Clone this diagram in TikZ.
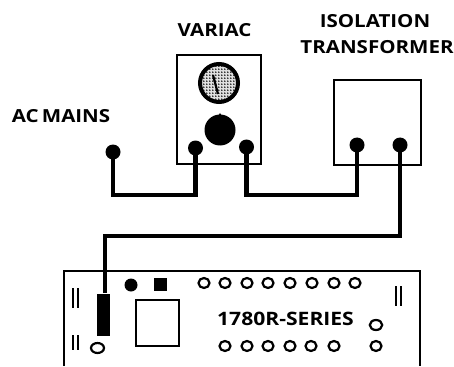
\documentclass[tikz,border=0pt]{standalone}
\usepackage{fontspec}
\setmainfont{Open Sans}[FakeStretch=1.14]
\usetikzlibrary{patterns,shapes.geometric}
\pgfdeclarepatternformonly{dialdots}{\pgfqpoint{-1pt}{-1pt}}{\pgfqpoint{2pt}{2pt}}{\pgfqpoint{3pt}{3pt}}{%
  \pgfpathcircle{\pgfqpoint{0pt}{0pt}}{1pt}\pgfusepath{fill}}
\tikzset{
  x=1pt,y=-1pt,
  box/.style={draw,line width=2pt,fill=white},
  term/.style={circle,fill=black,inner sep=0pt,minimum size=15pt},
  wire/.style={line width=4.5pt},
  hole/.style={ellipse,draw,line width=2.2pt,inner sep=0pt,minimum width=11pt,minimum height=10pt},
  lab/.style={font=\bfseries\fontsize{18}{20}\selectfont,inner sep=0pt},
  bar/.style={line width=2pt}
}
\begin{document}
\begin{tikzpicture}
\useasboundingbox (0,0) rectangle (454,366);
% labels
\node[lab] (mains) at (61,116) {AC\kern-2pt\ MAINS};
\node[lab] (var) at (214.5,30) {VARIAC};
\node[lab] (iso) at (375,21) {ISOLATION};
\node[lab] (trf) at (377,47) {TRANSFORMER};
% boxes
\draw[box] (177,55) rectangle (261,164);
\draw[box] (334,80) rectangle (421,165);
% dial and knob
\fill[black!12] (219,83) circle (20);
\fill[pattern=dialdots,pattern color=black] (219,83) circle (20);
\node[circle,draw,line width=4pt,minimum size=38pt,inner sep=0pt] (dial) at (219,83) {};
\draw[line width=2.2pt] (213,75) -- (218,94);
\node[circle,fill=black,inner sep=0pt,minimum size=31pt] (knob) at (220,130) {};
\fill (217,118) -- (220,113) -- (223,118) -- cycle;
% terminals
\node[term] (m) at (113,152) {};
\node[term] (v1) at (195.5,148) {};
\node[term] (v2) at (246.5,147) {};
\node[term] (t1) at (357,145) {};
\node[term] (t2) at (400,145) {};
% board
\draw[line width=2pt] (64,366) -- (64,271) -- (420,271) -- (420,366);
% wires
\coordinate (a) at (113,195);
\coordinate (b) at (195.5,195);
\coordinate (c) at (246.5,195);
\coordinate (d) at (357,195);
\coordinate (e) at (400,236);
\coordinate (f) at (105,236);
\node[fill=black,inner sep=0pt,minimum width=13.5pt,minimum height=42pt] (plug) at (103.5,314.5) {};
\draw[wire] (m.center) -- (a) -- (b) -- (v1.center);
\draw[wire] (v2.center) -- (c) -- (d) -- (t1.center);
\draw[wire] (t2.center) -- (e) -- (f) -- (f |- plug.north);
% board contents
\node[circle,fill=black,inner sep=0pt,minimum size=13pt] (led) at (131,285) {};
\node[fill=black,inner sep=0pt,minimum size=13pt] (sq) at (160,284) {};
\draw[line width=1.8pt] (136,300) rectangle (179,346);
\foreach \n/\x in {1/204,2/225,3/247,4/268,5/290,6/312,7/334,8/355}
  \node[hole] (top\n) at (\x,283) {};
\foreach \n/\x in {1/225,2/247,3/268,4/290,5/311,6/334}
  \node[hole] (bot\n) at (\x,346) {};
\node[hole,minimum width=12.5pt] (r1) at (376,325) {};
\node[hole] (r2) at (376,346) {};
\node[hole,minimum width=13pt] (l1) at (97.5,348) {};
\node[lab,font=\bfseries\fontsize{18.5}{20}\selectfont] (ser) at (285.5,319) {1780R-SERIES};
% bars
\draw[bar] (73,288) -- (73,308) (78,288) -- (78,308);
\draw[bar] (73,335) -- (73,350) (78,335) -- (78,350);
\draw[bar] (396,286) -- (396,306) (400.5,286) -- (400.5,306);
\end{tikzpicture}
\end{document}
